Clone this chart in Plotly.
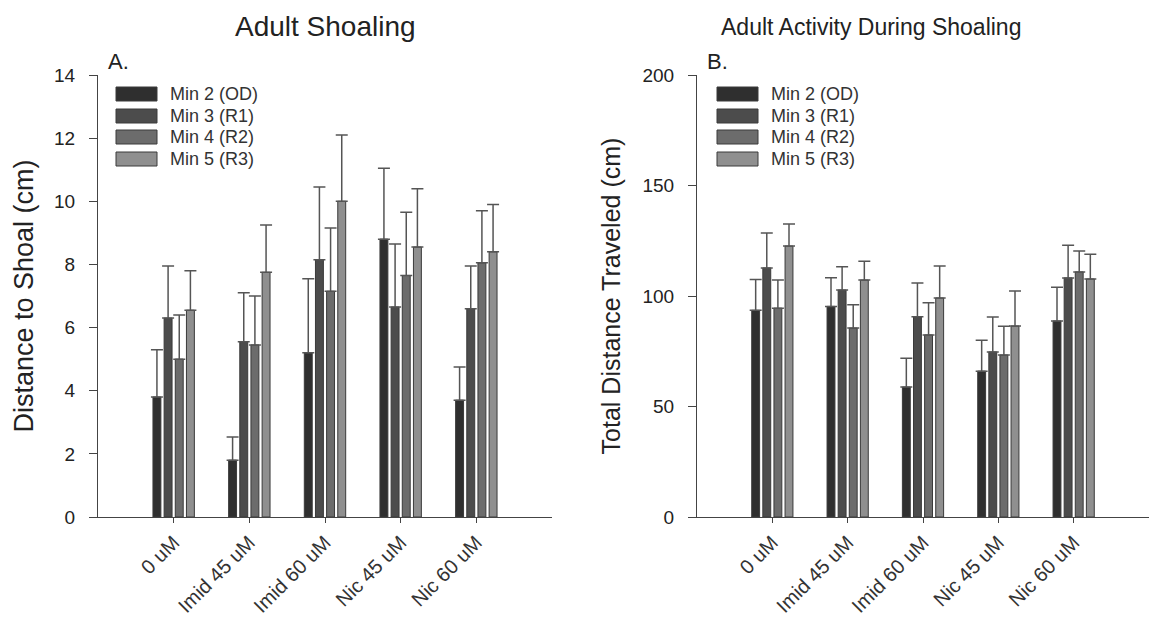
import plotly.graph_objects as go

categories = ["0 uM", "Imid 45 uM", "Imid 60 uM", "Nic 45 uM", "Nic 60 uM"]
series_names = ["Min 2 (OD)", "Min 3 (R1)", "Min 4 (R2)", "Min 5 (R3)"]
colors = ["#2f2f2f", "#4c4c4c", "#6c6c6c", "#8f8f8f"]

# Panel A: Distance to Shoal (cm)
a_min2 = [3.8, 1.8, 5.2, 8.8, 3.7]
a_min3 = [6.3, 5.55, 8.15, 6.65, 6.6]
a_min4 = [5.0, 5.45, 7.15, 7.65, 8.05]
a_min5 = [6.55, 7.75, 10.0, 8.55, 8.4]
a_err2 = [1.5, 0.73, 2.35, 2.25, 1.05]
a_err3 = [1.65, 1.55, 2.3, 2.0, 1.35]
a_err4 = [1.4, 1.55, 2.0, 2.0, 1.65]
a_err5 = [1.25, 1.5, 2.1, 1.85, 1.5]

# Panel B: Total Distance Traveled (cm)
b_min2 = [93.5, 95.3, 58.8, 66.0, 88.7]
b_min3 = [112.7, 102.7, 90.6, 74.7, 108.2]
b_min4 = [94.5, 85.5, 82.4, 73.3, 110.9]
b_min5 = [122.6, 107.2, 99.1, 86.4, 107.7]
b_err2 = [14.0, 13.0, 13.0, 14.0, 15.3]
b_err3 = [15.8, 10.5, 15.3, 15.8, 14.8]
b_err4 = [12.7, 10.5, 14.5, 13.0, 9.5]
b_err5 = [10.0, 8.5, 14.5, 15.9, 11.2]

a_tickvals = [0, 2, 4, 6, 8, 10, 12, 14]
b_tickvals = [0, 50, 100, 150, 200]

W, H = 1151, 619
FONT = "Liberation Sans, Arial, sans-serif"

fig = go.Figure()

a_vals = [a_min2, a_min3, a_min4, a_min5]
a_errs = [a_err2, a_err3, a_err4, a_err5]
b_vals = [b_min2, b_min3, b_min4, b_min5]
b_errs = [b_err2, b_err3, b_err4, b_err5]

for i in range(4):
    fig.add_trace(go.Bar(
        x=categories, y=a_vals[i], name=series_names[i],
        marker=dict(color=colors[i], line=dict(color="#3a3a3a", width=1)),
        error_y=dict(type="data", array=a_errs[i], symmetric=False,
                     arrayminus=[0] * 5, color="#555555", thickness=1.5, width=6),
        xaxis="x", yaxis="y", showlegend=False))
for i in range(4):
    fig.add_trace(go.Bar(
        x=categories, y=b_vals[i], name=series_names[i],
        marker=dict(color=colors[i], line=dict(color="#3a3a3a", width=1)),
        error_y=dict(type="data", array=b_errs[i], symmetric=False,
                     arrayminus=[0] * 5, color="#555555", thickness=1.5, width=6),
        xaxis="x2", yaxis="y2", showlegend=False))

px = lambda v: v / W
py = lambda v: 1 - v / H

ydom = [py(517), py(75)]
xaxis_common = dict(type="category", range=[-1, 5], showline=True, linecolor="#444",
                    linewidth=1, ticks="outside", ticklen=5, tickcolor="#444",
                    tickangle=-45, tickfont=dict(family=FONT, size=20, color="#333"),
                    ticklabelstandoff=0,
                    showgrid=False, zeroline=False, automargin=False)
yaxis_common = dict(showline=True, linecolor="#444", linewidth=1, ticks="outside",
                    ticklen=8, tickcolor="#444", tickfont=dict(family=FONT, size=19, color="#222"),
                    ticklabelstandoff=10,
                    showgrid=False, zeroline=False, automargin=False)

fig.update_layout(
    template="none",
    width=W, height=H,
    margin=dict(l=0, r=0, t=0, b=0, autoexpand=False),
    paper_bgcolor="white", plot_bgcolor="white",
    barmode="group", bargap=0.41, bargroupgap=0.29,
    font=dict(family=FONT, color="#222"),
    xaxis=dict(xaxis_common, domain=[px(98), px(552)], anchor="y"),
    xaxis2=dict(xaxis_common, domain=[px(697), px(1149)], anchor="y2"),
    yaxis=dict(yaxis_common, domain=ydom, range=[0, 14], tickvals=a_tickvals, anchor="x",
               title=dict(text="Distance to Shoal (cm)", font=dict(family=FONT, size=27, color="#222"),
                          standoff=12)),
    yaxis2=dict(yaxis_common, domain=ydom, range=[0, 200], tickvals=b_tickvals, anchor="x2",
                title=dict(text="Total Distance Traveled (cm)", font=dict(family=FONT, size=25, color="#222"),
                           standoff=14)),
)

annotations = [
    dict(text="Adult Shoaling", x=px(325), y=py(27), xref="paper", yref="paper",
         showarrow=False, font=dict(family=FONT, size=28, color="#222"), xanchor="center", yanchor="middle"),
    dict(text="Adult Activity During Shoaling", x=px(871), y=py(27), xref="paper", yref="paper",
         showarrow=False, font=dict(family=FONT, size=23, color="#222"), xanchor="center", yanchor="middle"),
    dict(text="A.", x=px(106), y=py(62), xref="paper", yref="paper", showarrow=False,
         font=dict(family=FONT, size=22, color="#222"), xanchor="left", yanchor="middle"),
    dict(text="B.", x=px(705), y=py(62), xref="paper", yref="paper", showarrow=False,
         font=dict(family=FONT, size=22, color="#222"), xanchor="left", yanchor="middle"),
]
shapes = []
# Manual legends
row_y = [94, 116, 137, 159]
for left in (116, 717):
    for i in range(4):
        cy = row_y[i]
        shapes.append(dict(type="rect", xref="paper", yref="paper",
                           x0=px(left), x1=px(left + 41), y0=py(cy + 7), y1=py(cy - 7),
                           fillcolor=colors[i], line=dict(color="#3a3a3a", width=1)))
        annotations.append(dict(text=series_names[i], x=px(left + 52), y=py(cy), xref="paper", yref="paper",
                                showarrow=False, xanchor="left", yanchor="middle",
                                font=dict(family=FONT, size=18, color="#333")))

fig.update_layout(annotations=annotations, shapes=shapes)

fig.write_html("out.html")
